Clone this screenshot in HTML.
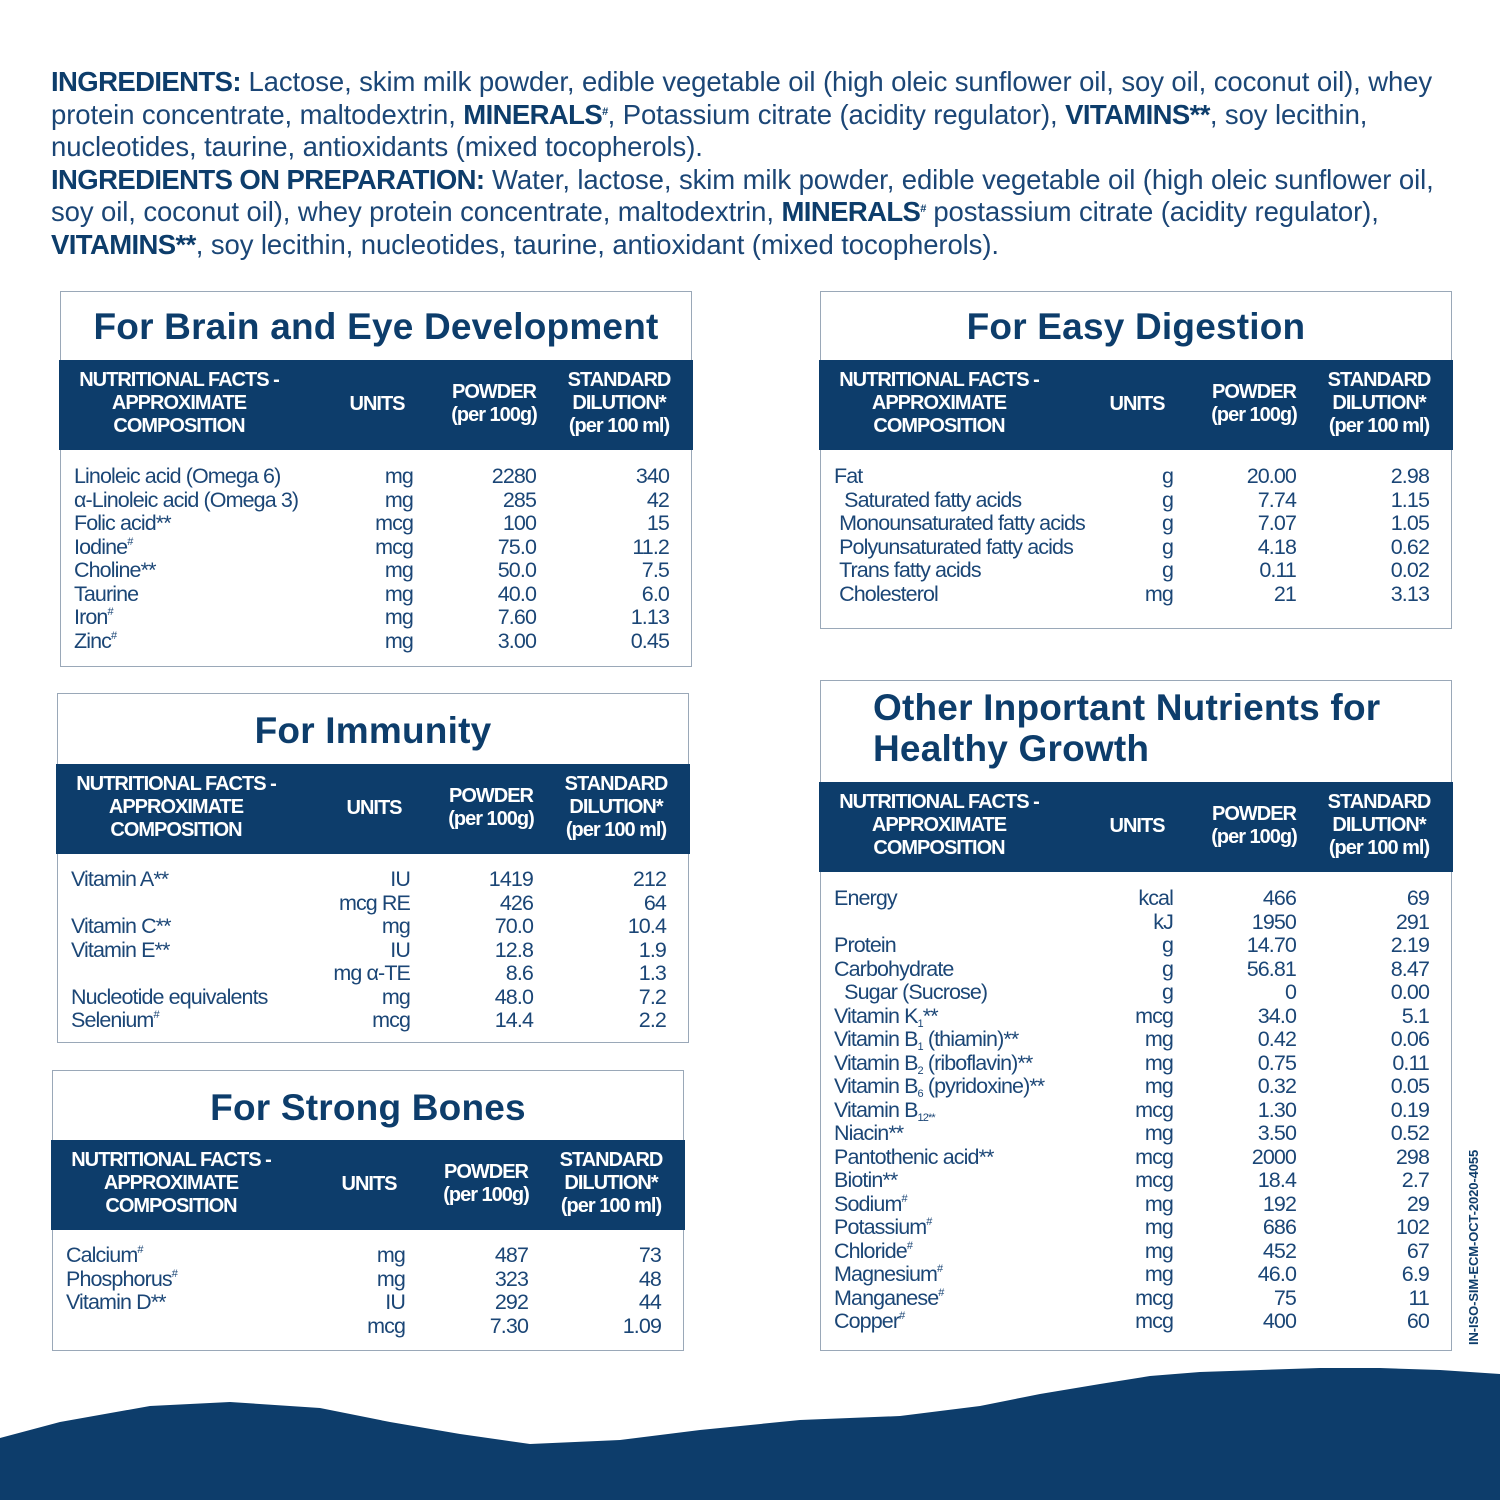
<!DOCTYPE html>
<html><head><meta charset="utf-8"><style>
*{margin:0;padding:0;box-sizing:border-box}
body{width:1500px;height:1500px;background:#fff;position:relative;overflow:hidden;font-family:"Liberation Sans",sans-serif;color:#1b4676}
.ing{position:absolute;left:51px;top:66px;width:1440px;font-size:27.5px;line-height:32.5px;letter-spacing:-0.1px;color:#1b4676;white-space:nowrap}
.ing b{color:#0d3d6b;letter-spacing:-0.6px}
.p{position:absolute;border:1.5px solid #9aa8b8;background:#fff}
.t{position:absolute;left:0;right:0;text-align:center;font-size:37px;font-weight:bold;color:#0d3d6b;letter-spacing:0.2px}
.h{position:absolute;left:-2px;right:-2px;height:90px;background:#0d3d6b;color:#fff;font-weight:bold;font-size:20px;line-height:23px;letter-spacing:-1px}
.h span{position:absolute;text-align:center;transform:translateX(-50%);white-space:nowrap}
table{position:absolute;left:0;border-collapse:collapse;table-layout:fixed;font-size:21.5px;letter-spacing:-0.9px}
td{height:23.5px;line-height:23.5px;padding:0;white-space:nowrap;overflow:visible}
td.l{padding-left:13px;text-align:left}
td.r{text-align:right}
sup,sub{font-size:11px;line-height:0;vertical-align:0;position:relative}
sup{top:-9px}
sub{top:4px}
</style></head><body>
<div class="ing"><b>INGREDIENTS:</b> Lactose, skim milk powder, edible vegetable oil (high oleic sunflower oil, soy oil, coconut oil), whey<br>protein concentrate, maltodextrin, <b>MINERALS<sup>#</sup></b>, Potassium citrate (acidity regulator), <b>VITAMINS**</b>, soy lecithin,<br>nucleotides, taurine, antioxidants (mixed tocopherols).<br><b>INGREDIENTS ON PREPARATION:</b> Water, lactose, skim milk powder, edible vegetable oil (high oleic sunflower oil,<br>soy oil, coconut oil), whey protein concentrate, maltodextrin, <b>MINERALS<sup>#</sup></b> postassium citrate (acidity regulator),<br><b>VITAMINS**</b>, soy lecithin, nucleotides, taurine, antioxidant (mixed tocopherols).</div>

<!-- Panel 1 -->
<div class="p" style="left:60px;top:291px;width:632px;height:376px">
<div class="t" style="top:14px">For Brain and Eye Development</div>
<div class="h" style="top:68px"><span style="left:120px;top:9px">NUTRITIONAL FACTS -<br>APPROXIMATE<br>COMPOSITION</span><span style="left:318px;top:33px">UNITS</span><span style="left:435px;top:21px">POWDER<br>(per 100g)</span><span style="left:560px;top:9px">STANDARD<br>DILUTION*<br>(per 100 ml)</span></div>
<table style="top:173px;width:631px"><colgroup><col style="width:262px"><col style="width:90px"><col style="width:123px"><col style="width:133px"><col></colgroup>
<tr><td class="l">Linoleic acid (Omega 6)</td><td class="r">mg</td><td class="r">2280</td><td class="r">340</td><td></td></tr>
<tr><td class="l">α-Linoleic acid (Omega 3)</td><td class="r">mg</td><td class="r">285</td><td class="r">42</td><td></td></tr>
<tr><td class="l">Folic acid**</td><td class="r">mcg</td><td class="r">100</td><td class="r">15</td><td></td></tr>
<tr><td class="l">Iodine<sup>#</sup></td><td class="r">mcg</td><td class="r">75.0</td><td class="r">11.2</td><td></td></tr>
<tr><td class="l">Choline**</td><td class="r">mg</td><td class="r">50.0</td><td class="r">7.5</td><td></td></tr>
<tr><td class="l">Taurine</td><td class="r">mg</td><td class="r">40.0</td><td class="r">6.0</td><td></td></tr>
<tr><td class="l">Iron<sup>#</sup></td><td class="r">mg</td><td class="r">7.60</td><td class="r">1.13</td><td></td></tr>
<tr><td class="l">Zinc<sup>#</sup></td><td class="r">mg</td><td class="r">3.00</td><td class="r">0.45</td><td></td></tr>
</table></div>

<!-- Immunity -->
<div class="p" style="left:57px;top:693px;width:632px;height:350px">
<div class="t" style="top:16px">For Immunity</div>
<div class="h" style="top:70px"><span style="left:120px;top:9px">NUTRITIONAL FACTS -<br>APPROXIMATE<br>COMPOSITION</span><span style="left:318px;top:33px">UNITS</span><span style="left:435px;top:21px">POWDER<br>(per 100g)</span><span style="left:560px;top:9px">STANDARD<br>DILUTION*<br>(per 100 ml)</span></div>
<table style="top:174px;width:631px"><colgroup><col style="width:262px"><col style="width:90px"><col style="width:123px"><col style="width:133px"><col></colgroup>
<tr><td class="l">Vitamin A**</td><td class="r">IU</td><td class="r">1419</td><td class="r">212</td><td></td></tr>
<tr><td class="l"></td><td class="r">mcg RE</td><td class="r">426</td><td class="r">64</td><td></td></tr>
<tr><td class="l">Vitamin C**</td><td class="r">mg</td><td class="r">70.0</td><td class="r">10.4</td><td></td></tr>
<tr><td class="l">Vitamin E**</td><td class="r">IU</td><td class="r">12.8</td><td class="r">1.9</td><td></td></tr>
<tr><td class="l"></td><td class="r">mg α-TE</td><td class="r">8.6</td><td class="r">1.3</td><td></td></tr>
<tr><td class="l">Nucleotide equivalents</td><td class="r">mg</td><td class="r">48.0</td><td class="r">7.2</td><td></td></tr>
<tr><td class="l">Selenium<sup>#</sup></td><td class="r">mcg</td><td class="r">14.4</td><td class="r">2.2</td><td></td></tr>
</table></div>

<!-- Bones -->
<div class="p" style="left:52px;top:1070px;width:632px;height:281px">
<div class="t" style="top:16px">For Strong Bones</div>
<div class="h" style="top:69px"><span style="left:120px;top:9px">NUTRITIONAL FACTS -<br>APPROXIMATE<br>COMPOSITION</span><span style="left:318px;top:33px">UNITS</span><span style="left:435px;top:21px">POWDER<br>(per 100g)</span><span style="left:560px;top:9px">STANDARD<br>DILUTION*<br>(per 100 ml)</span></div>
<table style="top:173px;width:631px"><colgroup><col style="width:262px"><col style="width:90px"><col style="width:123px"><col style="width:133px"><col></colgroup>
<tr><td class="l">Calcium<sup>#</sup></td><td class="r">mg</td><td class="r">487</td><td class="r">73</td><td></td></tr>
<tr><td class="l">Phosphorus<sup>#</sup></td><td class="r">mg</td><td class="r">323</td><td class="r">48</td><td></td></tr>
<tr><td class="l">Vitamin D**</td><td class="r">IU</td><td class="r">292</td><td class="r">44</td><td></td></tr>
<tr><td class="l"></td><td class="r">mcg</td><td class="r">7.30</td><td class="r">1.09</td><td></td></tr>
</table></div>

<!-- Easy Digestion -->
<div class="p" style="left:820px;top:291px;width:632px;height:338px">
<div class="t" style="top:14px">For Easy Digestion</div>
<div class="h" style="top:68px"><span style="left:120px;top:9px">NUTRITIONAL FACTS -<br>APPROXIMATE<br>COMPOSITION</span><span style="left:318px;top:33px">UNITS</span><span style="left:435px;top:21px">POWDER<br>(per 100g)</span><span style="left:560px;top:9px">STANDARD<br>DILUTION*<br>(per 100 ml)</span></div>
<table style="top:173px;width:631px"><colgroup><col style="width:262px"><col style="width:90px"><col style="width:123px"><col style="width:133px"><col></colgroup>
<tr><td class="l">Fat</td><td class="r">g</td><td class="r">20.00</td><td class="r">2.98</td><td></td></tr>
<tr><td class="l">&nbsp;&nbsp;Saturated fatty acids</td><td class="r">g</td><td class="r">7.74</td><td class="r">1.15</td><td></td></tr>
<tr><td class="l">&nbsp;Monounsaturated fatty acids</td><td class="r">g</td><td class="r">7.07</td><td class="r">1.05</td><td></td></tr>
<tr><td class="l">&nbsp;Polyunsaturated fatty acids</td><td class="r">g</td><td class="r">4.18</td><td class="r">0.62</td><td></td></tr>
<tr><td class="l">&nbsp;Trans fatty acids</td><td class="r">g</td><td class="r">0.11</td><td class="r">0.02</td><td></td></tr>
<tr><td class="l">&nbsp;Cholesterol</td><td class="r">mg</td><td class="r">21</td><td class="r">3.13</td><td></td></tr>
</table></div>

<!-- Other -->
<div class="p" style="left:820px;top:680px;width:632px;height:671px">
<div class="t" style="top:6px;text-align:left;left:52px;line-height:41px">Other Inportant Nutrients for<br>Healthy Growth</div>
<div class="h" style="top:101px"><span style="left:120px;top:9px">NUTRITIONAL FACTS -<br>APPROXIMATE<br>COMPOSITION</span><span style="left:318px;top:33px">UNITS</span><span style="left:435px;top:21px">POWDER<br>(per 100g)</span><span style="left:560px;top:9px">STANDARD<br>DILUTION*<br>(per 100 ml)</span></div>
<table style="top:206px;width:631px"><colgroup><col style="width:262px"><col style="width:90px"><col style="width:123px"><col style="width:133px"><col></colgroup>
<tr><td class="l">Energy</td><td class="r">kcal</td><td class="r">466</td><td class="r">69</td><td></td></tr>
<tr><td class="l"></td><td class="r">kJ</td><td class="r">1950</td><td class="r">291</td><td></td></tr>
<tr><td class="l">Protein</td><td class="r">g</td><td class="r">14.70</td><td class="r">2.19</td><td></td></tr>
<tr><td class="l">Carbohydrate</td><td class="r">g</td><td class="r">56.81</td><td class="r">8.47</td><td></td></tr>
<tr><td class="l">&nbsp;&nbsp;Sugar (Sucrose)</td><td class="r">g</td><td class="r">0</td><td class="r">0.00</td><td></td></tr>
<tr><td class="l">Vitamin K<sub>1</sub>**</td><td class="r">mcg</td><td class="r">34.0</td><td class="r">5.1</td><td></td></tr>
<tr><td class="l">Vitamin B<sub>1</sub> (thiamin)**</td><td class="r">mg</td><td class="r">0.42</td><td class="r">0.06</td><td></td></tr>
<tr><td class="l">Vitamin B<sub>2</sub> (riboflavin)**</td><td class="r">mg</td><td class="r">0.75</td><td class="r">0.11</td><td></td></tr>
<tr><td class="l">Vitamin B<sub>6</sub> (pyridoxine)**</td><td class="r">mg</td><td class="r">0.32</td><td class="r">0.05</td><td></td></tr>
<tr><td class="l">Vitamin B<sub>12**</sub></td><td class="r">mcg</td><td class="r">1.30</td><td class="r">0.19</td><td></td></tr>
<tr><td class="l">Niacin**</td><td class="r">mg</td><td class="r">3.50</td><td class="r">0.52</td><td></td></tr>
<tr><td class="l">Pantothenic acid**</td><td class="r">mcg</td><td class="r">2000</td><td class="r">298</td><td></td></tr>
<tr><td class="l">Biotin**</td><td class="r">mcg</td><td class="r">18.4</td><td class="r">2.7</td><td></td></tr>
<tr><td class="l">Sodium<sup>#</sup></td><td class="r">mg</td><td class="r">192</td><td class="r">29</td><td></td></tr>
<tr><td class="l">Potassium<sup>#</sup></td><td class="r">mg</td><td class="r">686</td><td class="r">102</td><td></td></tr>
<tr><td class="l">Chloride<sup>#</sup></td><td class="r">mg</td><td class="r">452</td><td class="r">67</td><td></td></tr>
<tr><td class="l">Magnesium<sup>#</sup></td><td class="r">mg</td><td class="r">46.0</td><td class="r">6.9</td><td></td></tr>
<tr><td class="l">Manganese<sup>#</sup></td><td class="r">mcg</td><td class="r">75</td><td class="r">11</td><td></td></tr>
<tr><td class="l">Copper<sup>#</sup></td><td class="r">mcg</td><td class="r">400</td><td class="r">60</td><td></td></tr>
</table></div>

<div style="position:absolute;left:1466px;top:1345px;transform:rotate(-90deg);transform-origin:0 0;font-size:13px;font-weight:bold;color:#0d3d6b;white-space:nowrap;letter-spacing:-0.1px">IN-ISO-SIM-ECM-OCT-2020-4055</div>

<svg style="position:absolute;left:0;top:1340px" width="1500" height="160" viewBox="0 0 1500 160">
<path fill="#0d3d6b" d="M0,98 L60,82 L150,66 L230,62 L320,68 L390,82 L460,94 L530,104 L620,100 L700,90 L800,80 L900,76 L980,66 L1040,54 L1100,44 L1150,36 L1200,32 L1260,30 L1320,28 L1380,28 L1440,30 L1500,34 L1500,160 L0,160 Z"/>
</svg>
</body></html>
